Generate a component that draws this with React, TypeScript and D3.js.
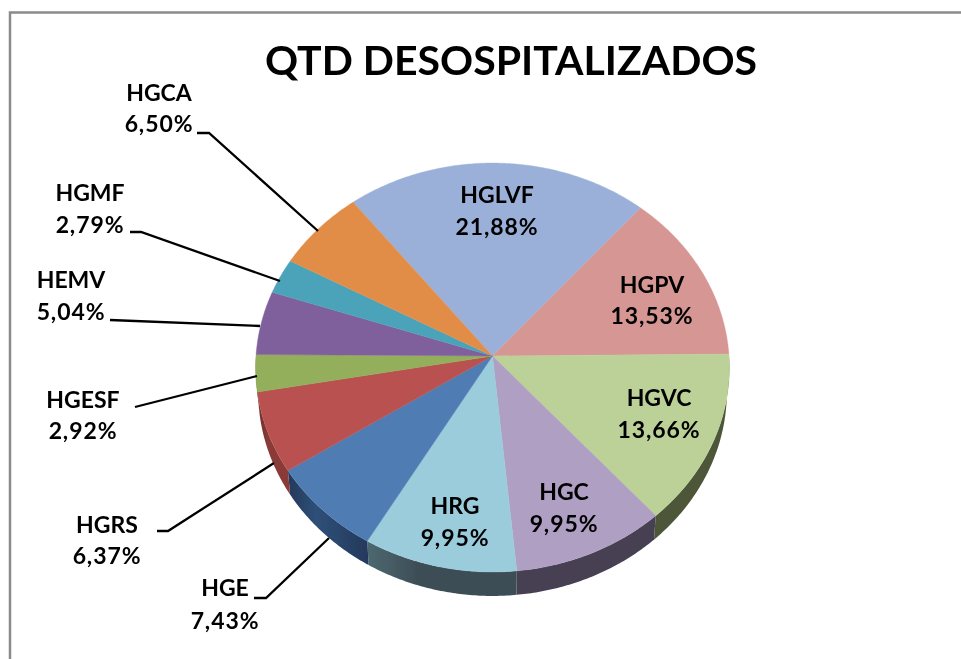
import React from "react";
import * as d3 from "d3";

const titleText = "QTD DESOSPITALIZADOS";
const names = ["HGLVF", "HGPV", "HGVC", "HGC", "HRG", "HGE", "HGRS", "HGESF", "HEMV", "HGMF", "HGCA"];
const shares = [21.88, 13.53, 13.66, 9.95, 9.95, 7.43, 6.37, 2.92, 5.04, 2.79, 6.5];
const shownPct = ["21,88%", "13,53%", "13,66%", "9,95%", "9,95%", "7,43%", "6,37%", "2,92%", "5,04%", "2,79%", "6,50%"];
const topColors = ["#9bb0d8", "#d69694", "#bcd197", "#af9fc3", "#9accdc", "#4f7db3", "#b8514f", "#93af5b", "#7f619c", "#4ba3ba", "#e28d47"];
const wallA = ["#5d6b82", "#7c3533", "#4d5639", "#463f52", "#4d6870", "#2f4f78", "#8a3b39", "#5b6d38", "#4f3c61", "#2e6373", "#8a5729"];
const wallB = ["#5d6b82", "#7c3533", "#4d5639", "#463f52", "#3d4d55", "#24395c", "#6f2f2d", "#5b6d38", "#4f3c61", "#2e6373", "#8a5729"];

// label layout: centre x, first-line baseline, second-line baseline
const labelX = [497, 652, 659, 564, 455, 225, 107, 83, 71, 90, 159];
const labelY1 = [203, 293, 406, 500, 514, 596, 533, 408, 288, 201, 101];
const labelY2 = [235, 324, 438, 532, 546, 629, 564, 439, 320, 233, 132];

// leader polylines by slice name
const leaders: Record<string, [number, number][]> = {
  HGCA: [[197, 133], [209, 133], [318, 231]],
  HGMF: [[130, 232], [141, 232], [280, 281]],
  HEMV: [[110, 320], [260, 326]],
  HGESF: [[135, 407], [257, 376]],
  HGRS: [[157, 531], [168, 531], [274, 463]],
  HGE: [[254, 598], [266, 598], [329, 538]],
};

const W = 961, H = 659;
const cx = 492.5, cy = 356;
const B = 236.5, A = 203.8, k = 0.0562; // projective tilt of the disc
const depth = 24, botB = 234;
const startDeg = -38;

const toRad = (d: number) => (d * Math.PI) / 180;
const project = (a: number, level: 0 | 1): [number, number] => {
  const u = Math.sin(a), v = Math.cos(a);
  const w = 1 + k * v;
  const halfW = level ? botB : B;
  return [cx + (halfW * u) / w, cy + level * depth - (A * v) / w];
};

const line = d3.line<[number, number]>();

const arcs = d3
  .pie<number>()
  .sort(null)
  .startAngle(toRad(startDeg))
  .endAngle(toRad(startDeg + 360))(shares);

const samples = (a0: number, a1: number) => {
  const n = Math.max(2, Math.ceil(Math.abs(a1 - a0) / 0.01));
  return d3.range(n + 1).map((i) => a0 + ((a1 - a0) * i) / n);
};

const topPath = (a0: number, a1: number) => {
  const pts: [number, number][] = [[cx, cy]];
  samples(a0, a1).forEach((a) => pts.push(project(a, 0)));
  return line(pts) + "Z";
};

const wallPath = (a0: number, a1: number) => {
  const lo = Math.max(a0, Math.PI / 2);
  const hi = Math.min(a1, (3 * Math.PI) / 2);
  if (hi <= lo) return null;
  const pts: [number, number][] = [];
  samples(lo, hi).forEach((a) => pts.push(project(a, 0)));
  samples(hi, lo).forEach((a) => pts.push(project(a, 1)));
  return line(pts) + "Z";
};

const font = "Lato, 'Open Sans', sans-serif";

export default function App() {
  return (
    <svg
      width={W}
      height={H}
      viewBox={`0 0 ${W} ${H}`}
      style={{ position: "absolute", left: 0, top: 0, display: "block", background: "#fff" }}
    >
      <defs>
        <filter id="soft" x="-5%" y="-5%" width="110%" height="110%">
          <feGaussianBlur stdDeviation="0.5" />
        </filter>
        {arcs.map((_, i) => (
          <linearGradient key={i} id={`wall${i}`} gradientUnits="objectBoundingBox" x1="0" x2="1" y1="0" y2="0">
            <stop offset="0" stopColor={i === 5 || i === 6 ? wallB[i] : wallA[i]} />
            <stop offset="0.35" stopColor={i === 5 || i === 6 ? wallA[i] : wallB[i]} />
            <stop offset="1" stopColor={i === 5 ? wallB[i] : i === 6 ? wallA[i] : wallB[i]} />
          </linearGradient>
        ))}
      </defs>
      <g filter="url(#soft)">
        <path d={`M${W},12.5H10V${H}`} fill="none" stroke="#8b8b8b" strokeWidth={2.5} />
        {arcs.map((a, i) => {
          const d = wallPath(a.startAngle, a.endAngle);
          return d ? <path key={i} d={d} fill={`url(#wall${i})`} /> : null;
        })}
        {arcs.map((a, i) => (
          <path key={i} d={topPath(a.startAngle, a.endAngle)} fill={topColors[i]} stroke={topColors[i]} strokeWidth={0.4} />
        ))}
        {names.map((n) =>
          leaders[n] ? (
            <path key={n} d={line(leaders[n]) ?? ""} fill="none" stroke="#000" strokeWidth={2.3} />
          ) : null
        )}
        <text x={511} y={75} textAnchor="middle" fontFamily={font} fontWeight={700} fontSize={41} fill="#000">
          {titleText}
        </text>
        {names.map((n, i) => (
          <g key={n} fontFamily={font} fontWeight={700} fontSize={23} fill="#000" textAnchor="middle">
            <text x={labelX[i]} y={labelY1[i]}>{n}</text>
            <text x={labelX[i]} y={labelY2[i]} letterSpacing={0.9}>{shownPct[i]}</text>
          </g>
        ))}
      </g>
    </svg>
  );
}
